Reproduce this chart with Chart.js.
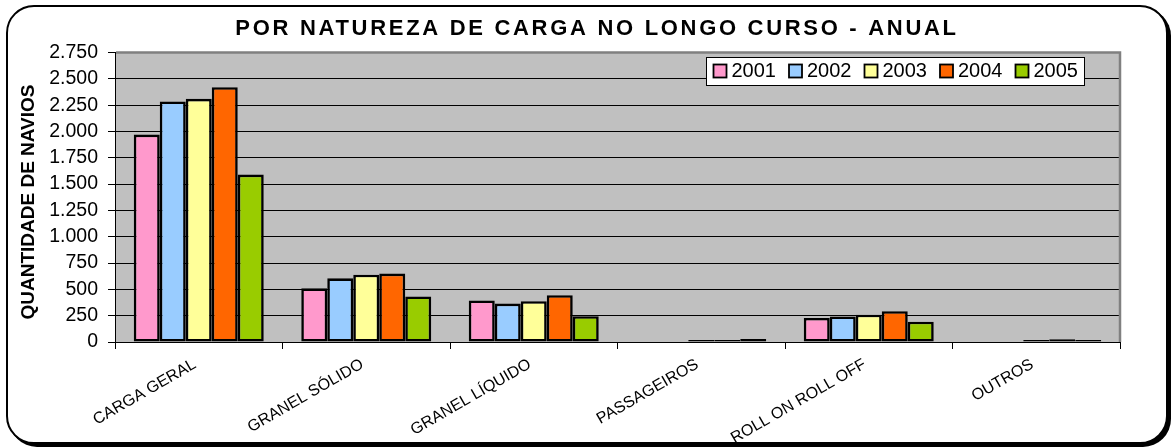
<!DOCTYPE html>
<html lang="pt-BR">
<head>
<meta charset="utf-8">
<title>Por natureza de carga no longo curso - anual</title>
<script src="https://cdn.jsdelivr.net/npm/chart.js@4"></script>
<style>
  html, body { margin: 0; padding: 0; background: #fff; }
  #wrap { position: relative; width: 1171px; height: 448px; overflow: hidden; }
  #frame {
    position: absolute; left: 6px; top: 5px;
    width: 1158px; height: 435px;
    border: 2px solid #000; border-radius: 28px;
    box-shadow: 3px 3px 0 #000;
    background: #fff;
  }
  #chart { position: absolute; left: 0; top: 0; }
</style>
</head>
<body>
<div id="wrap">
  <div id="frame"></div>
  <canvas id="chart" width="1171" height="448"></canvas>
</div>
<script>
// Tipos de carga (categorias do eixo X)
const categories = ['CARGA GERAL', 'GRANEL SÓLIDO', 'GRANEL LÍQUIDO', 'PASSAGEIROS', 'ROLL ON ROLL OFF', 'OUTROS'];

// Anos da série
const years = ['2001', '2002', '2003', '2004', '2005'];

// Quantidade de navios por tipo de carga, um array por ano
const navios2001 = [1970, 510, 395, 0, 228, 0];
const navios2002 = [2285, 605, 365, 0, 243, 0];
const navios2003 = [2310, 640, 388, 18, 260, 18];
const navios2004 = [2420, 650, 445, 18, 292, 25];
const navios2005 = [1590, 433, 245, 28, 193, 18];

// Marcas do eixo Y
const yTicks = [0, 250, 500, 750, 1000, 1250, 1500, 1750, 2000, 2250, 2500, 2750];

const series = [navios2001, navios2002, navios2003, navios2004, navios2005];
const colors = ['#FF99CC', '#99CCFF', '#FFFF99', '#FF6600', '#99CC00'];
const FONT = '"Liberation Sans", Arial, sans-serif';

function fmtMilhar(v) {
  return String(v).replace(/\B(?=(\d{3})+(?!\d))/g, '.');
}

// Fundo cinza da área de plotagem, borda superior/direita, títulos e legenda
const decor = {
  id: 'decor',
  beforeDraw(chart) {
    const { ctx, chartArea: a } = chart;
    ctx.save();
    ctx.fillStyle = '#C0C0C0';
    ctx.fillRect(a.left, a.top, a.right - a.left, a.bottom - a.top);
    ctx.restore();
  },
  afterDraw(chart) {
    const { ctx, chartArea: a } = chart;
    ctx.save();
    // borda cinza superior e direita
    ctx.strokeStyle = '#808080';
    ctx.lineWidth = 2.5;
    ctx.beginPath();
    ctx.moveTo(a.left + 1, a.top);
    ctx.lineTo(a.right, a.top);
    ctx.lineTo(a.right, a.bottom);
    ctx.stroke();

    // título do gráfico
    ctx.fillStyle = '#000';
    ctx.font = 'bold 22px ' + FONT;
    ctx.letterSpacing = '2.7px';
    ctx.textAlign = 'center';
    ctx.textBaseline = 'alphabetic';
    ctx.fillText('POR NATUREZA DE CARGA NO LONGO CURSO - ANUAL', 597, 35);
    ctx.letterSpacing = '0px';

    // título do eixo Y
    ctx.save();
    ctx.translate(29, 202);
    ctx.rotate(-Math.PI / 2);
    ctx.font = 'bold 19px ' + FONT;
    ctx.textAlign = 'center';
    ctx.textBaseline = 'middle';
    ctx.fillText('QUANTIDADE DE NAVIOS', 0, 0);
    ctx.restore();

    // legenda
    const lx = 706.5, ly = 57.5, lw = 378, lh = 28;
    ctx.fillStyle = '#fff';
    ctx.fillRect(lx, ly, lw, lh);
    ctx.strokeStyle = '#000';
    ctx.lineWidth = 1;
    ctx.strokeRect(lx, ly, lw, lh);
    ctx.font = '20px ' + FONT;
    ctx.textAlign = 'left';
    ctx.textBaseline = 'middle';
    chart.data.datasets.forEach((ds, i) => {
      const x = 713.5 + i * 75.5;
      const y = 64.5;
      ctx.fillStyle = ds.backgroundColor;
      ctx.fillRect(x, y, 13, 13);
      ctx.lineWidth = 1.8;
      ctx.strokeStyle = '#000';
      ctx.strokeRect(x, y, 13, 13);
      ctx.fillStyle = '#000';
      ctx.fillText(ds.label, x + 18, y + 7);
    });
    ctx.restore();
  }
};

new Chart(document.getElementById('chart'), {
  type: 'bar',
  data: {
    labels: categories,
    datasets: years.map((y, i) => ({
      label: y,
      data: series[i],
      backgroundColor: colors[i],
      borderColor: '#000',
      borderWidth: 2.6,
      borderSkipped: false,
      categoryPercentage: 0.776,
      barPercentage: 1
    }))
  },
  options: {
    responsive: false,
    animation: false,
    devicePixelRatio: 1,
    layout: { padding: { left: 17, top: 52.5, right: 51, bottom: 0 } },
    plugins: {
      legend: { display: false },
      title: { display: false },
      tooltip: { enabled: false }
    },
    scales: {
      x: {
        offset: true,
        grid: { display: true, drawOnChartArea: false, drawTicks: true, tickLength: 7, color: '#000', offset: true },
        border: { color: '#000', width: 1 },
        ticks: { minRotation: 30, maxRotation: 30, autoSkip: false, labelOffset: -4, color: '#000', padding: 6, font: { family: FONT, size: 16 } },
        afterFit(s) { s.height = 106; }
      },
      y: {
        min: 0,
        max: 2750,
        afterBuildTicks(s) { s.ticks = yTicks.map(v => ({ value: v })); },
        ticks: { color: '#000', padding: 10, autoSkip: false, font: { family: FONT, size: 19.5 }, callback: v => fmtMilhar(v) },
        grid: { color: '#000', lineWidth: 1, tickLength: 7 },
        border: { color: '#000', width: 1 },
        afterFit(s) { s.width = 98; }
      }
    }
  },
  plugins: [decor]
});
</script>
</body>
</html>
